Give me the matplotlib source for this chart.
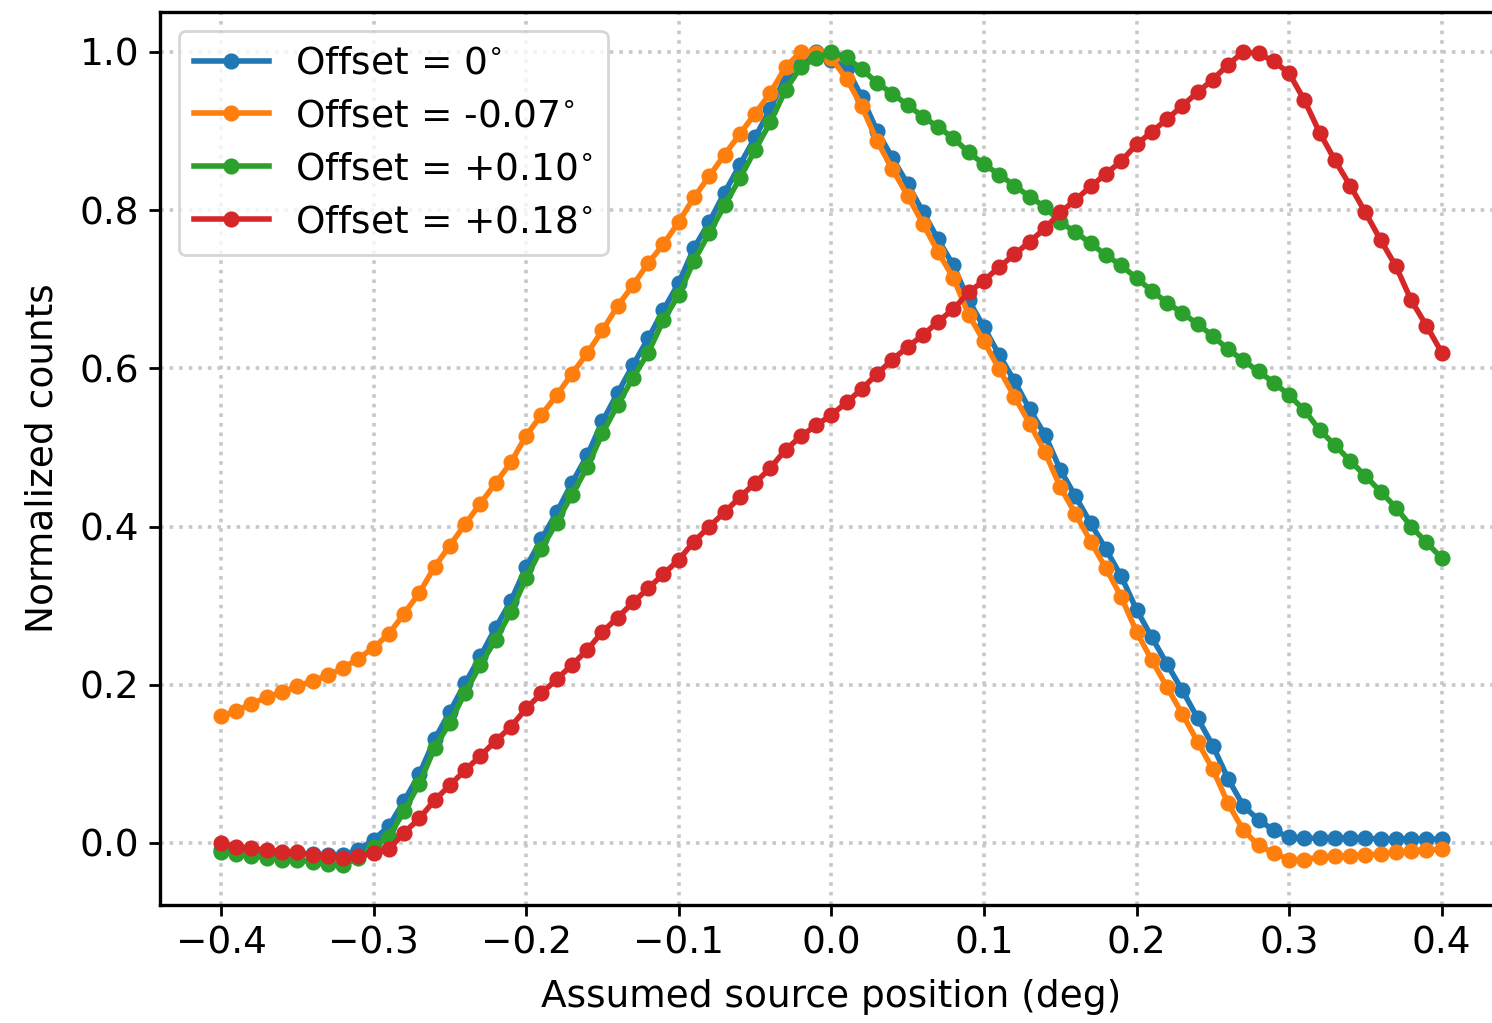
from matplotlib import pyplot as plt
import numpy as np

# assumed source position, 0.01 deg steps from -0.4 to 0.4
positions = np.linspace(-0.4, 0.4, 81)

labels = [r'Offset = 0$^{\circ}$', r'Offset = -0.07$^{\circ}$',
          r'Offset = +0.10$^{\circ}$', r'Offset = +0.18$^{\circ}$']

off_0 = [-0.009, -0.010, -0.011, -0.012, -0.013, -0.013, -0.014, -0.015, -0.015, -0.009,
         0.004, 0.021, 0.053, 0.087, 0.131, 0.166, 0.202, 0.236, 0.272, 0.306,
         0.349, 0.384, 0.418, 0.455, 0.490, 0.533, 0.569, 0.604, 0.638, 0.674,
         0.708, 0.752, 0.785, 0.822, 0.857, 0.892, 0.928, 0.969, 0.990, 1.000,
         0.990, 0.980, 0.943, 0.900, 0.866, 0.833, 0.798, 0.763, 0.730, 0.686,
         0.652, 0.617, 0.584, 0.548, 0.516, 0.472, 0.438, 0.404, 0.371, 0.337,
         0.295, 0.260, 0.226, 0.193, 0.158, 0.123, 0.081, 0.047, 0.029, 0.016,
         0.007, 0.006, 0.006, 0.006, 0.006, 0.006, 0.005, 0.005, 0.005, 0.005,
         0.005]

off_m007 = [0.160, 0.167, 0.176, 0.184, 0.191, 0.198, 0.205, 0.212, 0.221, 0.233,
            0.247, 0.264, 0.290, 0.316, 0.349, 0.376, 0.403, 0.429, 0.455, 0.481,
            0.515, 0.541, 0.566, 0.593, 0.619, 0.648, 0.679, 0.705, 0.733, 0.757,
            0.785, 0.816, 0.843, 0.870, 0.896, 0.922, 0.948, 0.981, 1.000, 0.998,
            0.992, 0.966, 0.931, 0.887, 0.852, 0.818, 0.783, 0.747, 0.714, 0.668,
            0.634, 0.599, 0.564, 0.530, 0.494, 0.450, 0.416, 0.381, 0.347, 0.311,
            0.267, 0.231, 0.197, 0.163, 0.128, 0.093, 0.050, 0.016, -0.003, -0.013,
            -0.021, -0.021, -0.018, -0.017, -0.016, -0.015, -0.014, -0.012, -0.010, -0.009,
            -0.008]

off_p010 = [-0.011, -0.014, -0.016, -0.019, -0.021, -0.021, -0.024, -0.026, -0.028, -0.019,
            -0.005, 0.008, 0.040, 0.075, 0.120, 0.152, 0.190, 0.225, 0.257, 0.292,
            0.335, 0.372, 0.405, 0.440, 0.475, 0.518, 0.554, 0.588, 0.620, 0.661,
            0.693, 0.736, 0.771, 0.806, 0.840, 0.876, 0.911, 0.952, 0.981, 0.992,
            1.000, 0.993, 0.978, 0.961, 0.947, 0.933, 0.918, 0.905, 0.891, 0.873,
            0.858, 0.845, 0.831, 0.817, 0.804, 0.785, 0.772, 0.758, 0.743, 0.730,
            0.714, 0.698, 0.683, 0.670, 0.656, 0.641, 0.624, 0.610, 0.596, 0.582,
            0.566, 0.547, 0.522, 0.503, 0.483, 0.464, 0.444, 0.424, 0.400, 0.380,
            0.360]

off_p018 = [0.000, -0.005, -0.007, -0.009, -0.011, -0.012, -0.015, -0.017, -0.019, -0.017,
            -0.013, -0.008, 0.013, 0.031, 0.054, 0.073, 0.092, 0.110, 0.129, 0.147,
            0.170, 0.189, 0.207, 0.225, 0.244, 0.267, 0.285, 0.304, 0.322, 0.340,
            0.358, 0.381, 0.400, 0.418, 0.437, 0.455, 0.474, 0.497, 0.514, 0.528,
            0.541, 0.557, 0.574, 0.593, 0.611, 0.627, 0.642, 0.659, 0.675, 0.696,
            0.711, 0.728, 0.744, 0.760, 0.777, 0.797, 0.813, 0.830, 0.846, 0.862,
            0.883, 0.899, 0.915, 0.932, 0.949, 0.965, 0.984, 1.000, 0.998, 0.988,
            0.973, 0.939, 0.898, 0.863, 0.831, 0.797, 0.762, 0.729, 0.686, 0.654,
            0.620]

series = [off_0, off_m007, off_p010, off_p018]
colors = ['tab:blue', 'tab:orange', 'tab:green', 'tab:red']

plt.rcParams['font.size'] = 13.5

fig = plt.figure(figsize=(7.46, 5.115), dpi=200)
# axes runs slightly past the right edge, like the cropped original
ax = fig.add_axes([0.1072, 0.1153, 0.9000, 0.8730])

for vals, lab, c in zip(series, labels, colors):
    ax.plot(positions, vals, '-o', color=c, lw=2, ms=4.8, label=lab)

ax.set_xlim(-0.44, 0.44)
ax.set_ylim(-0.0785, 1.0505)
ax.set_xticks([-0.4, -0.3, -0.2, -0.1, 0.0, 0.1, 0.2, 0.3, 0.4])
ax.set_yticks([0.0, 0.2, 0.4, 0.6, 0.8, 1.0])
ax.grid(True, ls=':', color='#c8c8c8', lw=1.3)
ax.tick_params(width=1.0, length=4)
for sp in ax.spines.values():
    sp.set_linewidth(1.2)

ax.set_xlabel('Assumed source position (deg)', labelpad=6)
ax.set_ylabel('Normalized counts', labelpad=7)
ax.legend(loc='upper left', handlelength=2.0, handletextpad=0.7,
          labelspacing=0.45, fontsize=13.5)

fig.savefig('out.png', dpi=200)
